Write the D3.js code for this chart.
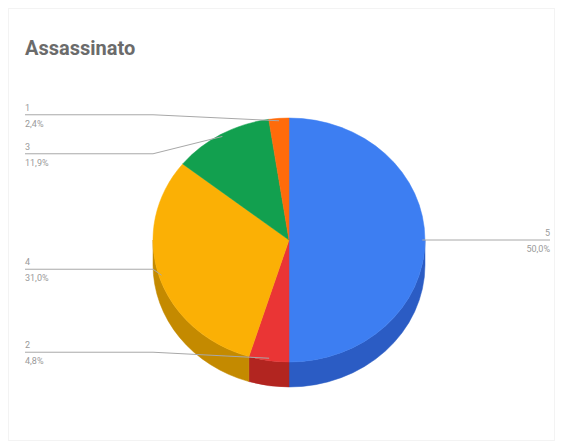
<!DOCTYPE html>
<html>
<head>
<meta charset="utf-8">
<script src="https://cdn.jsdelivr.net/npm/d3@7"></script>
<style>
  body { margin: 0; background: #fff; }
  text { font-family: Roboto, "Noto Sans", sans-serif; }
</style>
</head>
<body>
<svg id="chart"></svg>
<script>
// slices, clockwise from 12 o'clock
const categories = ["5", "2", "4", "3", "1"];
const counts = [21, 2, 13, 5, 1];
const topColors = ["#3d7ef2", "#ea3535", "#fbb005", "#12a04f", "#ff6b0a"];
const sideColors = ["#2b5cc4", "#b22520", "#c48a00", "#0c7a3b", "#c45200"];
const chartTitle = "Assassinato";

const WIDTH = 563;
const HEIGHT = 445;
const CX = 289, CY = 240, RX = 136, RY = 122, DEPTH = 25;

var svg = d3.select("#chart").attr("width", WIDTH).attr("height", HEIGHT);

// faint frame
svg.append("rect")
  .attr("x", 8.5).attr("y", 8.5)
  .attr("width", 546).attr("height", 432)
  .attr("fill", "none")
  .attr("stroke", "#f3f3f3");

svg.append("text")
  .attr("x", 25).attr("y", 55)
  .attr("font-size", 20)
  .attr("font-weight", "bold")
  .attr("fill", "#6b6b6b")
  .text(chartTitle);

const total = d3.sum(counts);
const fmt = (v) => d3.format(".1f")(v * 100).replace(".", ",") + "%";

var topScale = d3.scaleOrdinal().domain(categories).range(topColors);
var sideScale = d3.scaleOrdinal().domain(categories).range(sideColors);

var pie = d3.pie().sort(null).value((d) => d.count);
var arcs = pie(categories.map((c, i) => ({ cat: c, count: counts[i] })));

// point on the ellipse, angle measured clockwise from top
function pt(a, k, dy) {
  k = k || 1;
  dy = dy || 0;
  return [CX + RX * k * Math.sin(a), CY - RY * k * Math.cos(a) + dy];
}

// side walls (only the front half is visible)
var wallG = svg.append("g").attr("class", "walls");
arcs.forEach((d) => {
  var a0 = Math.max(d.startAngle, Math.PI / 2);
  var a1 = Math.min(d.endAngle, 3 * Math.PI / 2);
  if (a1 <= a0) return;
  var p0 = pt(a0), p1 = pt(a1);
  var q0 = pt(a0, 1, DEPTH), q1 = pt(a1, 1, DEPTH);
  var large = a1 - a0 > Math.PI ? 1 : 0;
  var path = "M" + p0 + "A" + RX + "," + RY + " 0 " + large + " 1 " + p1 +
    "L" + q1 + "A" + RX + "," + RY + " 0 " + large + " 0 " + q0 + "Z";
  wallG.append("path")
    .attr("d", path)
    .attr("fill", sideScale(d.data.cat))
    .attr("stroke", sideScale(d.data.cat))
    .attr("stroke-width", 0.5);
});

// top face
svg.append("g")
  .attr("class", "slices")
  .selectAll("path")
  .data(arcs)
  .enter()
  .append("path")
  .attr("d", (d) => {
    var p0 = pt(d.startAngle), p1 = pt(d.endAngle);
    var large = d.endAngle - d.startAngle > Math.PI ? 1 : 0;
    return "M" + CX + "," + CY + "L" + p0 + "A" + RX + "," + RY + " 0 " + large + " 1 " + p1 + "Z";
  })
  .attr("fill", (d) => topScale(d.data.cat))
  .attr("stroke", (d) => topScale(d.data.cat))
  .attr("stroke-width", 0.5);

// labels with leader lines
var labels = arcs.map((d) => {
  var mid = (d.startAngle + d.endAngle) / 2;
  var anchor = pt(mid, 0.98);
  var right = anchor[0] > CX;
  return { d: d, anchor: anchor, right: right, y: anchor[1] - (right ? 0 : 6) };
});

var leftLabels = labels.filter((l) => !l.right).sort((a, b) => a.y - b.y);
var prev = -Infinity;
leftLabels.forEach((l) => {
  l.y = Math.max(l.y, prev + 39);
  prev = l.y;
});

var labelG = svg.append("g").attr("class", "labels");
labels.forEach((l) => {
  var pts;
  var tx;
  var anchorTxt;
  if (l.right) {
    tx = 550;
    anchorTxt = "end";
    pts = [[l.anchor[0], l.y], [tx, l.y]];
  } else {
    tx = 25;
    anchorTxt = "start";
    var elbow = Math.min(153, l.anchor[0]);
    pts = [[tx, l.y], [elbow, l.y], l.anchor];
  }
  labelG.append("path")
    .attr("d", d3.line()(pts))
    .attr("fill", "none")
    .attr("stroke", "#a8a8a8")
    .attr("stroke-width", 1);
  labelG.append("text")
    .attr("x", tx).attr("y", l.y - 4)
    .attr("text-anchor", anchorTxt)
    .attr("font-size", 9)
    .attr("fill", "#9a9a9a")
    .text(l.d.data.cat);
  labelG.append("text")
    .attr("x", tx).attr("y", l.y + 12)
    .attr("text-anchor", anchorTxt)
    .attr("font-size", 9)
    .attr("fill", "#9a9a9a")
    .text(fmt(l.d.data.count / total));
});
</script>
</body>
</html>
